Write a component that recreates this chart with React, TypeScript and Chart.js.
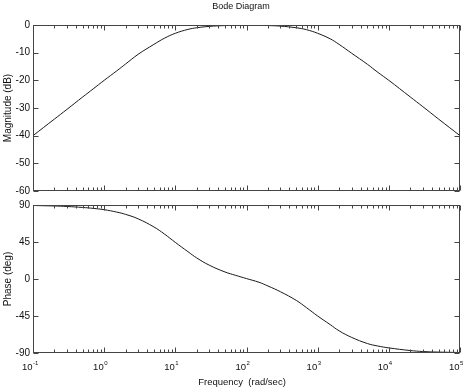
import React, { useEffect, useRef } from 'react';
import { Chart, registerables } from 'chart.js';

Chart.register(...registerables);

// ---- data ----
const frequencies = [0.1, 0.2, 0.3, 0.5, 0.7, 1, 1.5, 2, 3, 5, 7, 10, 15, 20, 30, 50, 70, 100, 150, 200, 300, 500, 700, 1000, 1500, 2000, 3000, 5000, 7000, 10000, 20000, 30000, 50000, 100000];
const magnitudeDb = [-40, -34, -30.5, -26, -23.1, -20, -16.6, -14.1, -10.6, -7, -4.8, -3, -1.6, -1, -0.5, -0.2, -0.1, -0.1, -0.1, -0.2, -0.4, -1, -1.7, -3, -5, -7, -10.2, -14.2, -17.1, -20, -26, -29.5, -34, -40];
const phaseDeg = [89.4, 88.8, 88.2, 87, 85.9, 84.3, 81.4, 78.6, 73.2, 63.3, 54.8, 44.5, 33.3, 25.6, 16.8, 8.5, 4.5, 0.5, -4, -8.5, -15.5, -26, -35, -45, -55.5, -63, -71, -78.5, -81.5, -83.8, -87, -88.2, -88.9, -89.4];
const decadeTicks = [0.1, 1, 10, 100, 1000, 10000, 100000];
const decadeExponents = ['-1', '0', '1', '2', '3', '4', '5'];
const magTicks = [0, -10, -20, -30, -40, -50, -60];
const phaseTicks = [90, 45, 0, -45, -90];
const chartTitle = 'Bode Diagram';
const magTitle = 'Magnitude (dB)';
const phaseTitle = 'Phase (deg)';
const xTitle = 'Frequency  (rad/sec)';

const FONT = '"Liberation Sans", Arial, Helvetica, sans-serif';
const INK = '#111';
const FRAME = '#444';

type PanelOpts = {
  yTitle: string;
  title?: string;
  xLabels?: boolean;
  canvasTop: number;
};

function framePlugin(o: PanelOpts) {
  return {
    id: 'bodeFrame',
    afterDraw(chart: any) {
      const { ctx, chartArea: a, scales } = chart;
      const xs = scales.x;
      const ys = scales.y;
      const px = (v: number) => Math.round(v) + 0.5;
      const L = px(a.left);
      const R = px(a.right) - 1;
      const T = px(a.top);
      const B = px(a.bottom) - 1;
      ctx.save();
      ctx.strokeStyle = FRAME;
      ctx.lineWidth = 1;
      ctx.strokeRect(L, T, R - L, B - T);
      ctx.beginPath();
      for (let i = 0; i < decadeTicks.length; i++) {
        const base = decadeTicks[i];
        const last = i === decadeTicks.length - 1;
        for (let k = 1; k <= (last ? 1 : 9); k++) {
          const x = px(xs.getPixelForValue(base * k));
          const len = k === 1 ? 5 : 3;
          ctx.moveTo(x, B);
          ctx.lineTo(x, B - len);
          ctx.moveTo(x, T);
          ctx.lineTo(x, T + len);
        }
      }
      ys.ticks.forEach((t: any) => {
        const y = px(ys.getPixelForValue(t.value));
        ctx.moveTo(L, y);
        ctx.lineTo(L + 5, y);
        ctx.moveTo(R, y);
        ctx.lineTo(R - 5, y);
      });
      ctx.stroke();

      ctx.fillStyle = INK;
      ctx.save();
      ctx.translate(8, (a.top + a.bottom) / 2);
      ctx.rotate(-Math.PI / 2);
      ctx.font = `10px ${FONT}`;
      ctx.textAlign = 'center';
      ctx.textBaseline = 'middle';
      ctx.fillText(o.yTitle, 0, 0);
      ctx.restore();

      if (o.title) {
        ctx.font = `9px ${FONT}`;
        ctx.textAlign = 'center';
        ctx.textBaseline = 'alphabetic';
        ctx.fillText(o.title, 241, 8.5 - o.canvasTop);
      }
      if (o.xLabels) {
        const baseY = 370 - o.canvasTop;
        decadeTicks.forEach((v, i) => {
          const x = xs.getPixelForValue(v);
          ctx.font = `9.5px ${FONT}`;
          ctx.textAlign = 'right';
          ctx.textBaseline = 'alphabetic';
          ctx.fillText('10', x - 0.5, baseY);
          ctx.font = `6px ${FONT}`;
          ctx.textAlign = 'left';
          ctx.fillText(decadeExponents[i], x, baseY - 5);
        });
        ctx.font = `9.5px ${FONT}`;
        ctx.textAlign = 'center';
        ctx.fillText(xTitle, 242, 385 - o.canvasTop);
      }
      ctx.restore();
    },
  };
}

function makeConfig(values: number[], yMin: number, yMax: number, step: number, ticks: number[], padTop: number, padBottom: number, o: PanelOpts): any {
  return {
    type: 'line',
    data: {
      datasets: [
        {
          data: frequencies.map((f, i) => ({ x: f, y: values[i] })),
          borderColor: '#1a1a1a',
          borderWidth: 1,
          pointRadius: 0,
          tension: 0.4,
          fill: false,
        },
      ],
    },
    options: {
      responsive: false,
      animation: false,
      layout: { padding: { left: 0, right: 9, top: padTop, bottom: padBottom } },
      plugins: { legend: { display: false }, tooltip: { enabled: false }, title: { display: false } },
      scales: {
        x: {
          type: 'logarithmic',
          min: decadeTicks[0],
          max: decadeTicks[decadeTicks.length - 1],
          ticks: { display: false },
          grid: { display: false, drawTicks: false },
          border: { display: false },
          afterFit: (s: any) => {
            s.height = 0;
          },
        },
        y: {
          type: 'linear',
          min: yMin,
          max: yMax,
          afterBuildTicks: (s: any) => {
            s.ticks = ticks.map((v) => ({ value: v }));
          },
          ticks: {
            stepSize: step,
            color: INK,
            padding: 3,
            font: { family: FONT, size: 10 },
          },
          grid: { display: false, drawTicks: false },
          border: { display: false },
          afterFit: (s: any) => {
            s.width = 33;
          },
        },
      },
    },
    plugins: [framePlugin(o)],
  };
}

export default function App() {
  const magRef = useRef<HTMLCanvasElement>(null);
  const phRef = useRef<HTMLCanvasElement>(null);

  useEffect(() => {
    const c1 = new Chart(
      magRef.current!,
      makeConfig(magnitudeDb, -60, 0, 10, magTicks, 25, 8, { yTitle: magTitle, title: chartTitle, canvasTop: 0 })
    );
    const c2 = new Chart(
      phRef.current!,
      makeConfig(phaseDeg, -90, 90, 45, phaseTicks, 10, 39, { yTitle: phaseTitle, xLabels: true, canvasTop: 195 })
    );
    return () => {
      c1.destroy();
      c2.destroy();
    };
  }, []);

  return (
    <div style={{ position: 'fixed', left: 0, top: 0, width: 469, height: 392, background: '#fff' }}>
      <canvas ref={magRef} width={469} height={200} style={{ position: 'absolute', left: 0, top: 0 }} />
      <canvas ref={phRef} width={469} height={197} style={{ position: 'absolute', left: 0, top: 195 }} />
    </div>
  );
}
